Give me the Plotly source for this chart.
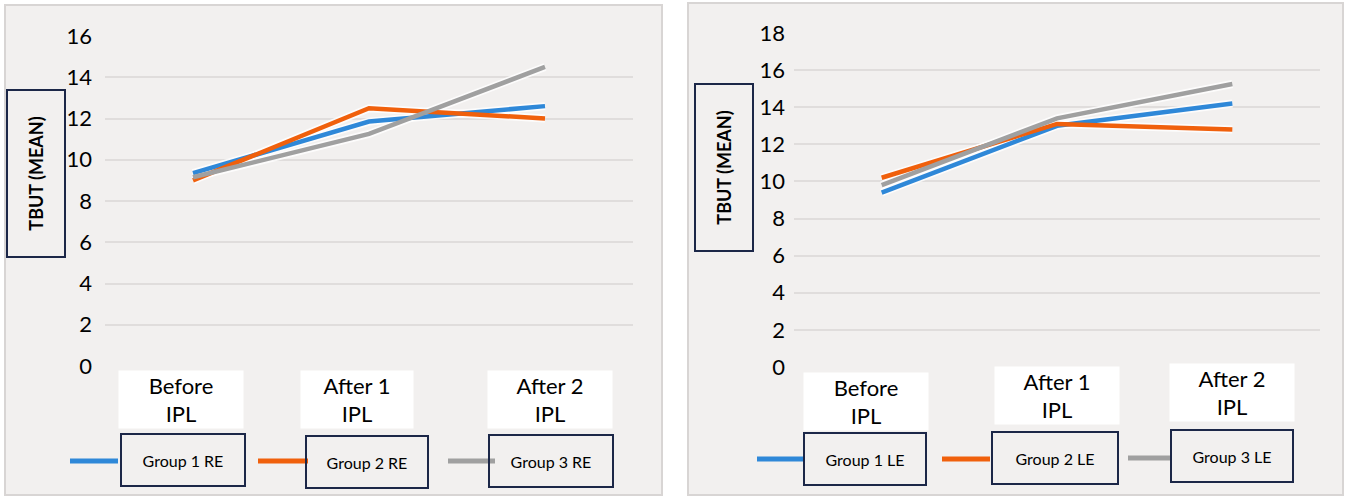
import plotly.graph_objects as go

# ---------------- data ----------------
categories = ["Before IPL", "After 1 IPL", "After 2 IPL"]
cat_labels = ["Before<br>IPL", "After 1<br>IPL", "After 2<br>IPL"]

re_group1 = [9.35, 11.85, 12.6]
re_group2 = [9.0, 12.5, 12.0]
re_group3 = [9.15, 11.25, 14.5]

le_group1 = [9.4, 13.0, 14.2]
le_group2 = [10.2, 13.1, 12.8]
le_group3 = [9.8, 13.4, 15.25]

re_names = ["Group 1 RE", "Group 2 RE", "Group 3 RE"]
le_names = ["Group 1 LE", "Group 2 LE", "Group 3 LE"]

left_ticks = [0, 2, 4, 6, 8, 10, 12, 14, 16]
right_ticks = [0, 2, 4, 6, 8, 10, 12, 14, 16, 18]

y_title = "TBUT (MEAN)"

# ---------------- style ----------------
W, H = 1345, 499
colors = ["#2f88d8", "#f0600c", "#a0a0a0"]
panel_bg = "#f2f0ef"
panel_line = "#d8d5d4"
grid_col = "#e0dddc"
navy = "#1c2748"
FONT = "Lato"


def px(x):
    return x / W


def py(y):
    return 1 - y / H


fig = go.Figure()

for vals, name, col in zip([re_group1, re_group2, re_group3], re_names, colors):
    fig.add_trace(go.Scatter(x=categories, y=vals, name=name, mode="lines",
                             line=dict(color="white", width=8), xaxis="x", yaxis="y",
                             showlegend=False, hoverinfo="skip", opacity=0.8))
for vals, name, col in zip([re_group1, re_group2, re_group3], re_names, colors):
    fig.add_trace(go.Scatter(x=categories, y=vals, name=name, mode="lines",
                             line=dict(color=col, width=4.5), xaxis="x", yaxis="y",
                             showlegend=False))
for vals, name, col in zip([le_group1, le_group2, le_group3], le_names, colors):
    fig.add_trace(go.Scatter(x=categories, y=vals, name=name, mode="lines",
                             line=dict(color="white", width=8), xaxis="x2", yaxis="y2",
                             showlegend=False, hoverinfo="skip", opacity=0.8))
for vals, name, col in zip([le_group1, le_group2, le_group3], le_names, colors):
    fig.add_trace(go.Scatter(x=categories, y=vals, name=name, mode="lines",
                             line=dict(color=col, width=4.5), xaxis="x2", yaxis="y2",
                             showlegend=False))

axis_common = dict(showline=False, zeroline=False, ticks="", fixedrange=True,
                   automargin=False)

fig.update_layout(
    width=W, height=H,
    autosize=False,
    margin=dict(l=0, r=0, t=0, b=0, pad=0, autoexpand=False),
    paper_bgcolor="white",
    plot_bgcolor="rgba(0,0,0,0)",
    font=dict(family=FONT, color="black"),
    showlegend=False,
    xaxis=dict(domain=[px(105), px(633)], type="category", range=[-0.5, 2.5],
               showgrid=False, showticklabels=False, anchor="y", **axis_common),
    yaxis=dict(domain=[py(366), py(36)], range=[0, 16], tickvals=left_ticks,
               showgrid=True, gridcolor=grid_col, gridwidth=2,
               tickfont=dict(size=22, family=FONT, color="black"),
               ticklabelstandoff=12, anchor="x", **axis_common),
    xaxis2=dict(domain=[px(794), px(1320)], type="category", range=[-0.5, 2.5],
                showgrid=False, showticklabels=False, anchor="y2", **axis_common),
    yaxis2=dict(domain=[py(367), py(33)], range=[0, 18], tickvals=right_ticks,
                showgrid=True, gridcolor=grid_col, gridwidth=2,
                tickfont=dict(size=22, family=FONT, color="black"),
                ticklabelstandoff=8, anchor="x2", **axis_common),
)

shapes = []
annotations = []

# panel backgrounds
for (x0, y0, x1, y1) in [(5, 5, 662, 495), (688, 3, 1343, 495)]:
    shapes.append(dict(type="rect", xref="paper", yref="paper",
                       x0=px(x0), x1=px(x1), y0=py(y1), y1=py(y0),
                       fillcolor=panel_bg, line=dict(color=panel_line, width=2),
                       layer="below"))

# y-axis title boxes
for cx, cy in [(36, 174), (724, 168)]:
    annotations.append(dict(xref="paper", yref="paper", x=px(cx), y=py(cy),
                            xanchor="center", yanchor="middle",
                            text="<b>" + y_title + "</b>", textangle=-90,
                            showarrow=False, width=165, height=56,
                            bordercolor=navy, borderwidth=2, borderpad=0,
                            font=dict(size=18, family=FONT, color="black")))

# category labels (white boxes)
cat_cfg = [
    ("x", [(-12, 370), (-12, 370), (5, 370)], [124, 112, 124]),
    ("x2", [(-16, 372), (0, 366), (0, 363)], [124, 124, 124]),
]
for xref, offs, widths in cat_cfg:
    for cat, lab, (dx, ytop), w in zip(categories, cat_labels, offs, widths):
        annotations.append(dict(xref=xref, yref="paper", x=cat, y=py(ytop),
                                xanchor="center", yanchor="top", xshift=dx,
                                text=lab, showarrow=False, width=w, height=57,
                                bgcolor="white", borderpad=0,
                                font=dict(size=22, family=FONT, color="black")))

# manual legends (line swatch + boxed label)
legend_cfg = [
    (re_names, [(70, 118, 461), (258, 308, 461), (448, 495, 461)],
     [(183, 460, 122), (367, 462, 120), (551, 461, 122)]),
    (le_names, [(757, 805, 459), (942, 990, 459), (1128, 1172, 458)],
     [(865, 459, 120), (1055, 458, 124), (1232, 456, 120)]),
]
for names, lines, boxes in legend_cfg:
    for name, col, (lx0, lx1, ly), (bx, by, bw) in zip(names, colors, lines, boxes):
        shapes.append(dict(type="line", xref="paper", yref="paper",
                           x0=px(lx0), x1=px(lx1), y0=py(ly), y1=py(ly),
                           line=dict(color=col, width=5)))
        annotations.append(dict(xref="paper", yref="paper", x=px(bx), y=py(by),
                                xanchor="center", yanchor="middle", text=name,
                                showarrow=False, width=bw, height=50,
                                bordercolor=navy, borderwidth=2, borderpad=0,
                                font=dict(size=16, family=FONT, color="black")))

fig.update_layout(shapes=shapes, annotations=annotations)

fig.write_html(
    "out.html",
    config={"displayModeBar": False, "staticPlot": True},
    post_script="document.body.style.margin='0';document.body.style.overflow='hidden';",
)
